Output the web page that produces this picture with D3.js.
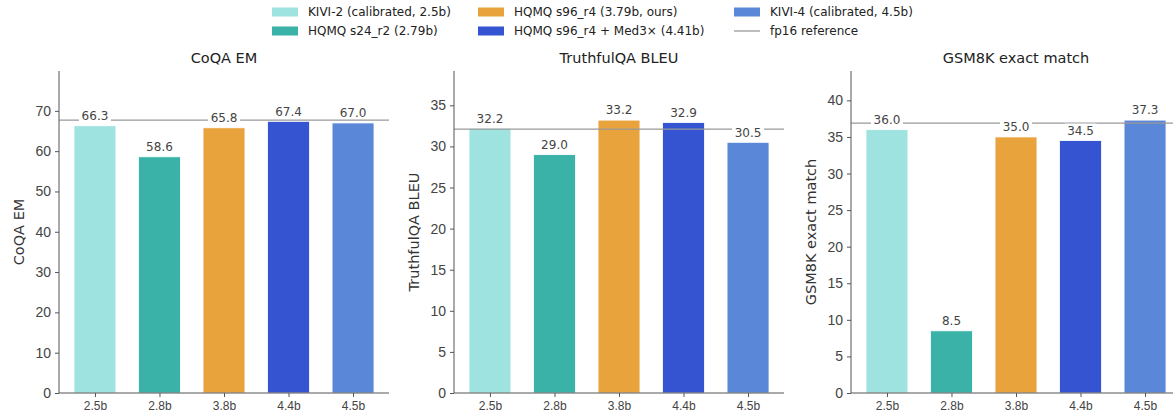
<!DOCTYPE html>
<html>
<head>
  <meta charset="utf-8">
  <title>KV-cache quantization benchmarks</title>
  <script src="https://d3js.org/d3.v7.min.js"></script>
  <style>
    body { margin: 0; background: #fff; }
    svg { font-family: "DejaVu Sans", sans-serif; }
    .tick text { fill: #444; }
    .domain, .tick line { stroke: #555; }
  </style>
</head>
<body>
  <div id="chart"></div>

  <script>
    // Data
    var methods = ["KIVI-2 (calibrated, 2.5b)", "HQMQ s24_r2 (2.79b)", "HQMQ s96_r4 (3.79b, ours)",
                   "HQMQ s96_r4 + Med3\u00d7 (4.41b)", "KIVI-4 (calibrated, 4.5b)"];
    var bitLabels = ["2.5b", "2.8b", "3.8b", "4.4b", "4.5b"];
    var colors = ["#9fe3e0", "#3bb2a8", "#e8a33c", "#3554d1", "#5b87d8"];
    var tasks = ["CoQA EM", "TruthfulQA BLEU", "GSM8K exact match"];
    var coqa = [66.3, 58.6, 65.8, 67.4, 67.0];
    var truthful = [32.2, 29.0, 33.2, 32.9, 30.5];
    var gsm8k = [36.0, 8.5, 35.0, 34.5, 37.3];
    var fp16Ref = [67.7, 32.1, 36.9];
    var tickSteps = [10, 5, 5];

    var series = [coqa, truthful, gsm8k];

    var W = 1173, H = 417;
    var svg = d3.select("#chart").append("svg")
      .attr("width", W).attr("height", H);

    var panelLeft = [59, 454, 851];
    var plotW = 330, plotTop = 71, plotBottom = 393;

    tasks.forEach(function(task, p) {
      var vals = series[p];
      var ymax = d3.max(vals.concat([fp16Ref[p]])) * 1.18;
      var y = d3.scaleLinear().domain([0, ymax]).range([plotBottom, plotTop]);
      var x = d3.scaleLinear().domain([-0.5575, 4.5575]).range([0, plotW]);
      var bw = x(0.65) - x(0);

      var g = svg.append("g").attr("transform", "translate(" + panelLeft[p] + ",0)");

      // bars
      g.selectAll(".bar").data(vals).enter().append("rect")
        .attr("class", "bar")
        .attr("x", function(d, i) { return x(i) - bw / 2; })
        .attr("y", function(d) { return y(d); })
        .attr("width", bw)
        .attr("height", function(d) { return plotBottom - y(d); })
        .attr("fill", function(d, i) { return colors[i]; })
        .attr("stroke", "#fff").attr("stroke-width", 0.8);

      // fp16 reference line
      g.append("line")
        .attr("x1", 0).attr("x2", plotW)
        .attr("y1", y(fp16Ref[p])).attr("y2", y(fp16Ref[p]))
        .attr("stroke", "#999").attr("stroke-width", 1.3);

      // value labels with white box
      var lab = g.selectAll(".val").data(vals).enter().append("g")
        .attr("class", "val")
        .attr("transform", function(d, i) { return "translate(" + x(i) + "," + (y(d) - 10) + ")"; });
      lab.append("rect")
        .attr("x", -16).attr("y", -7).attr("width", 32).attr("height", 13)
        .attr("fill", "#fff");
      lab.append("text")
        .attr("text-anchor", "middle").attr("dy", "0.35em")
        .attr("font-size", 12).attr("fill", "#444")
        .text(function(d) { return d.toFixed(1); });

      // axes
      var ticks = d3.range(0, ymax, tickSteps[p]);
      g.append("g")
        .call(d3.axisLeft(y).tickValues(ticks).tickFormat(d3.format("d")).tickSize(4).tickPadding(4))
        .call(function(a) { a.selectAll("text").attr("font-size", 14); })
        .select(".domain").attr("d", "M0," + plotTop + "V" + plotBottom);

      g.append("g")
        .attr("transform", "translate(0," + plotBottom + ")")
        .call(d3.axisBottom(x).tickValues(d3.range(5)).tickFormat(function(i) { return bitLabels[i]; })
          .tickSize(4).tickPadding(4))
        .call(function(a) { a.selectAll("text").attr("font-size", 12); })
        .select(".domain").attr("d", "M0,0H" + plotW);

      // title and y label
      g.append("text")
        .attr("x", plotW / 2).attr("y", 63)
        .attr("text-anchor", "middle").attr("font-size", 14.5).attr("fill", "#222")
        .text(task);
      g.append("text")
        .attr("transform", "translate(-35," + ((plotTop + plotBottom) / 2) + ") rotate(-90)")
        .attr("text-anchor", "middle").attr("font-size", 14.5).attr("fill", "#333")
        .text(task);
    });

    // legend
    var legendX = [272, 478, 734];
    var legendY = [12, 31];
    var order = [[0, 0], [1, 0], [0, 1], [1, 1], [0, 2]];
    var leg = svg.append("g").attr("class", "legend");
    methods.forEach(function(m, i) {
      var lx = legendX[order[i][1]], ly = legendY[order[i][0]];
      leg.append("rect").attr("x", lx).attr("y", ly - 4.5).attr("width", 26).attr("height", 9)
        .attr("fill", colors[i]);
      leg.append("text").attr("x", lx + 36).attr("y", ly).attr("dy", "0.35em")
        .attr("font-size", 12).attr("fill", "#222").text(m);
    });
    leg.append("line").attr("x1", legendX[2]).attr("x2", legendX[2] + 26)
      .attr("y1", legendY[1]).attr("y2", legendY[1])
      .attr("stroke", "#999").attr("stroke-width", 1.3);
    leg.append("text").attr("x", legendX[2] + 36).attr("y", legendY[1]).attr("dy", "0.35em")
      .attr("font-size", 12).attr("fill", "#222").text("fp16 reference");
  </script>
</body>
</html>
